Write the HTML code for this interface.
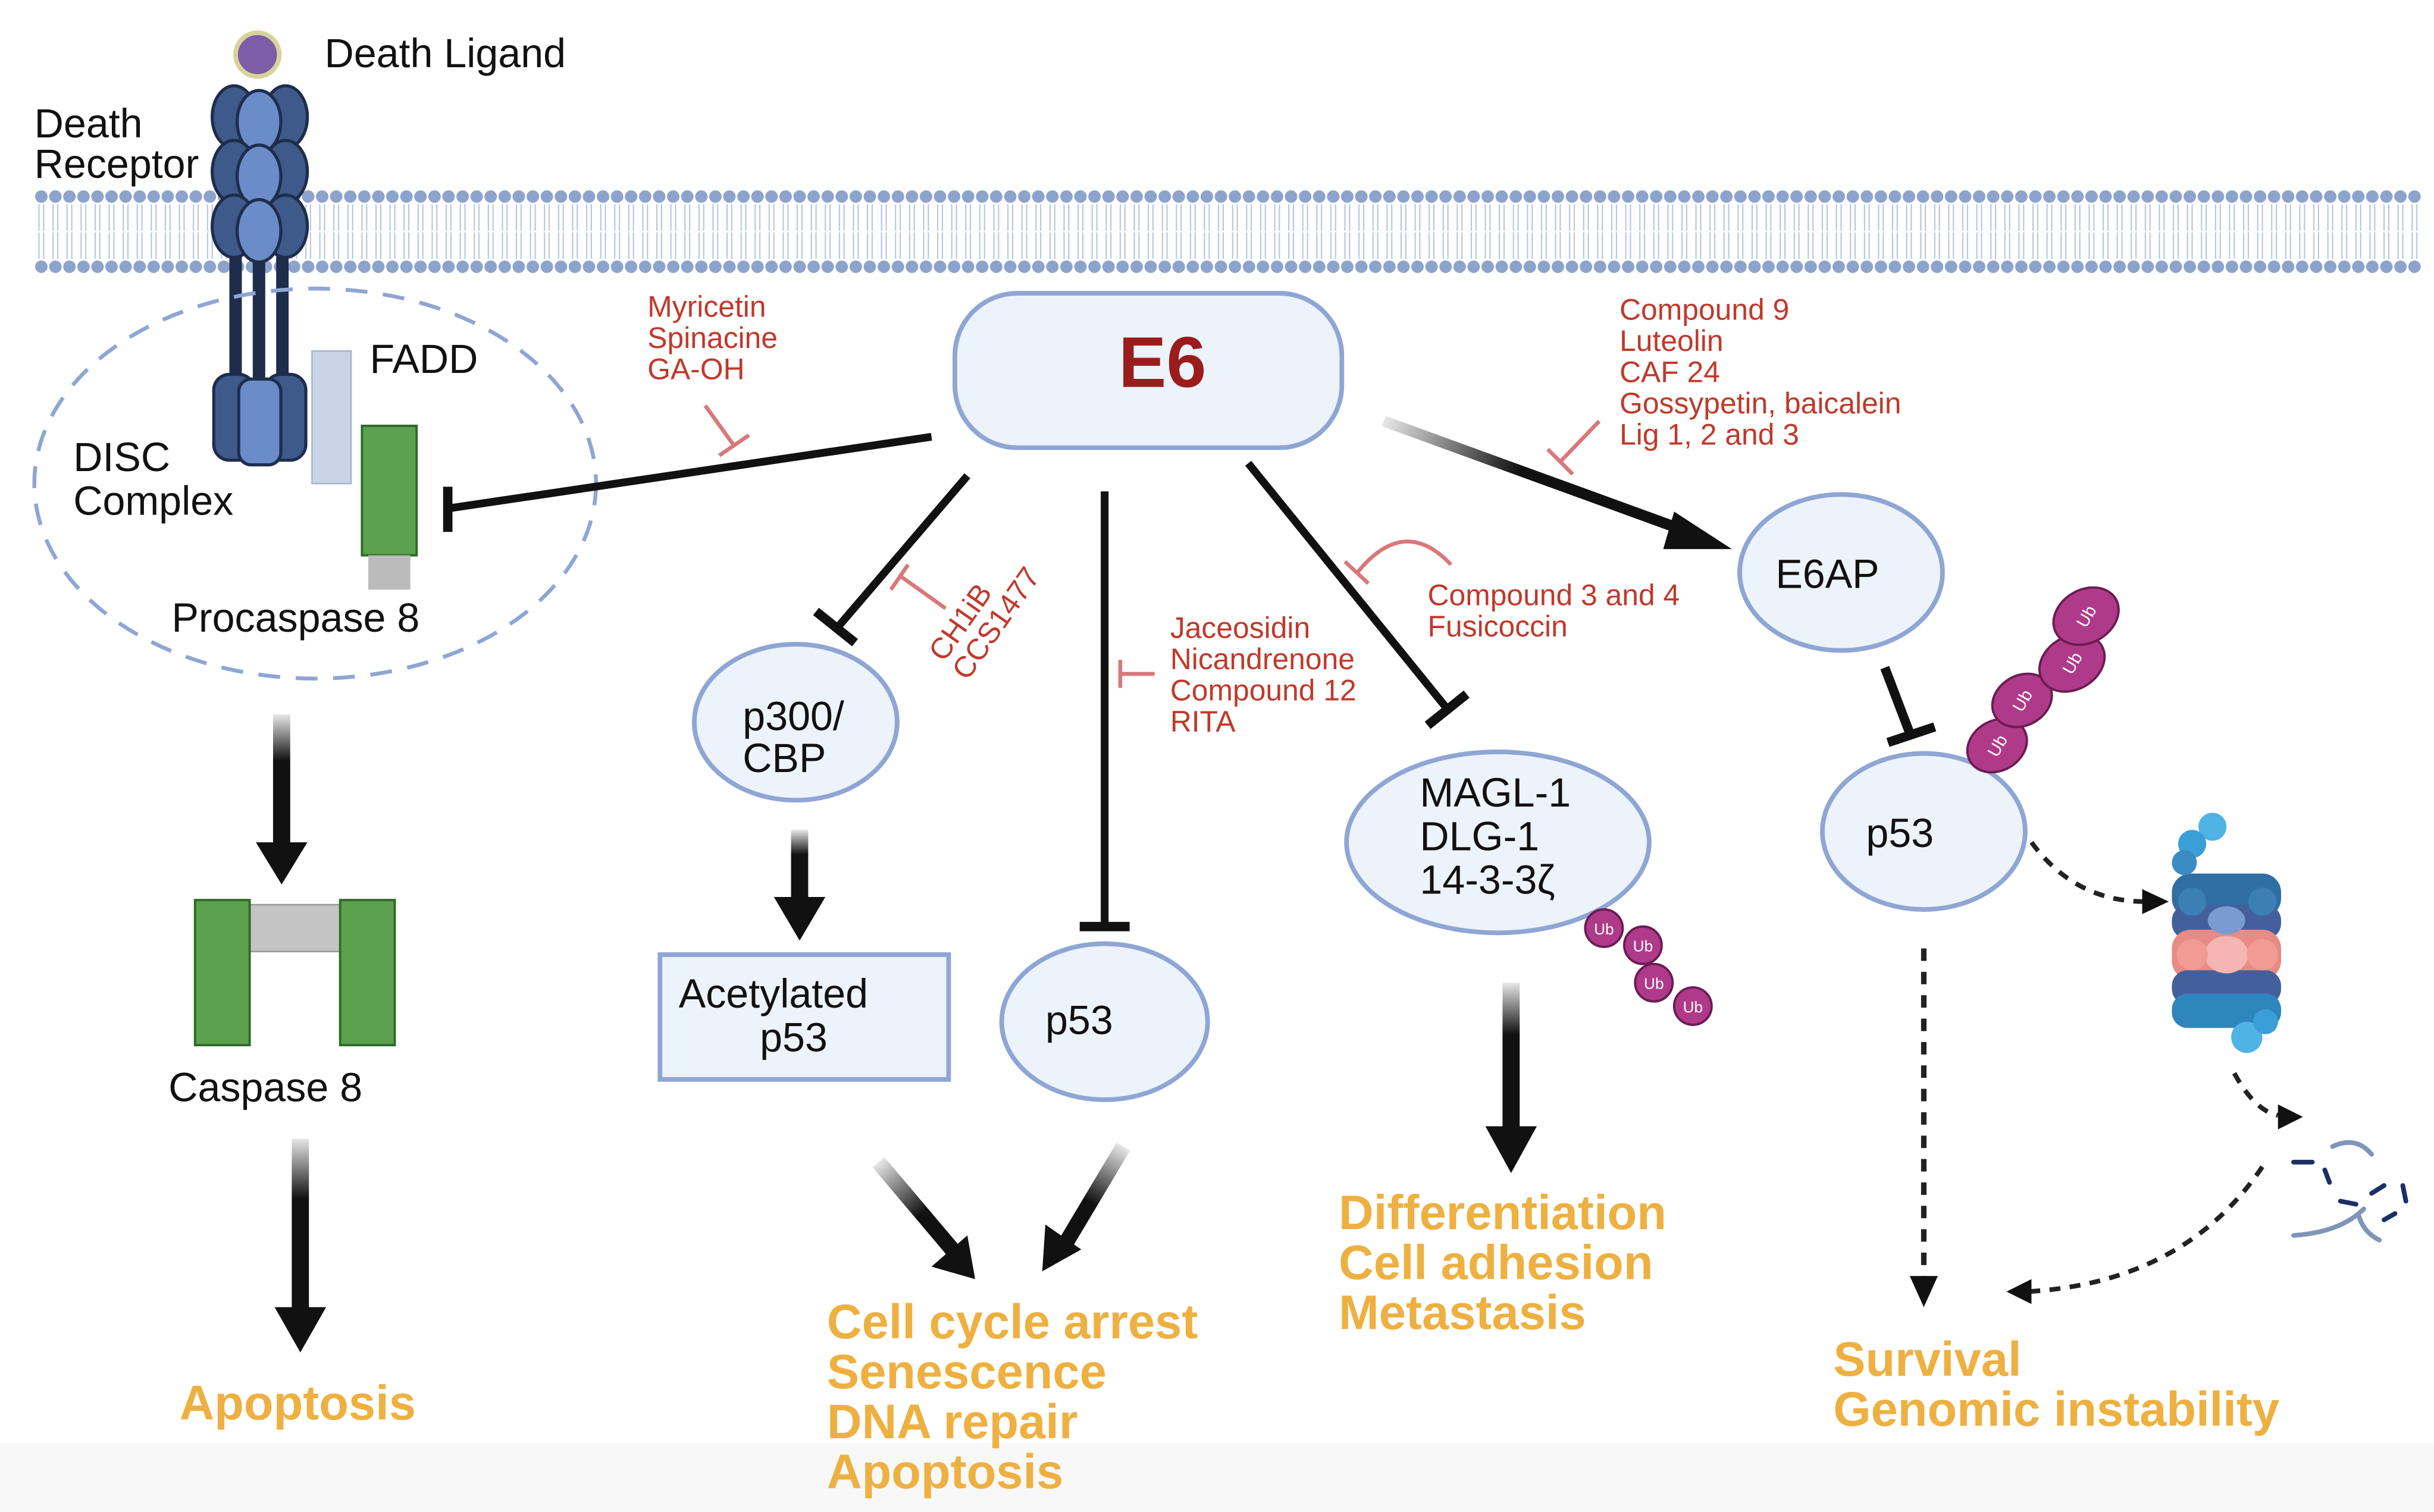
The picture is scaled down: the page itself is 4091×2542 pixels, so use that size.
<!DOCTYPE html>
<html><head><meta charset="utf-8"><style>
html,body{margin:0;padding:0;background:#fff;}
svg{display:block;}
text{font-family:"Liberation Sans",sans-serif;}
.n{fill:#111;font-size:26px;}
.r{fill:#c0392b;font-size:19px;}
.o{fill:#eeb041;font-size:31px;font-weight:bold;}
.node{fill:#edf3fb;stroke:#8fa6d4;stroke-width:3;}
</style></head><body>
<svg width="4091" height="2542" viewBox="0 0 1560 969.3" preserveAspectRatio="none" xmlns="http://www.w3.org/2000/svg">
<defs>
<pattern id="dots" x="22" y="0" width="9" height="200" patternUnits="userSpaceOnUse">
<circle cx="4.5" cy="126" r="4" fill="#8ca3cc"/>
<circle cx="4.5" cy="171" r="4" fill="#8ca3cc"/>
<path d="M3 131 L3 148 M6 131 L6 148 M3 149 L3 166 M6 149 L6 166" stroke="#b5c5e0" stroke-width="0.8"/>
</pattern>
<linearGradient id="gv" x1="0" y1="0" x2="0" y2="1"><stop offset="0" stop-color="#111" stop-opacity="0.1"/><stop offset="0.35" stop-color="#111"/></linearGradient>
<linearGradient id="g1" gradientUnits="userSpaceOnUse" x1="887" y1="270" x2="1060" y2="335"><stop offset="0" stop-color="#111" stop-opacity="0.1"/><stop offset="0.5" stop-color="#111"/></linearGradient>
<linearGradient id="g2" gradientUnits="userSpaceOnUse" x1="563" y1="745" x2="610" y2="800"><stop offset="0" stop-color="#111" stop-opacity="0.1"/><stop offset="0.6" stop-color="#111"/></linearGradient>
<linearGradient id="g3" gradientUnits="userSpaceOnUse" x1="720" y1="735" x2="685" y2="795"><stop offset="0" stop-color="#111" stop-opacity="0.1"/><stop offset="0.6" stop-color="#111"/></linearGradient>
</defs>
<rect x="0" y="925" width="1560" height="45" fill="#f8f8f8"/>

<!-- membrane -->
<rect x="22" y="118" width="1530" height="60" fill="url(#dots)"/>

<!-- death ligand & receptor -->
<circle cx="165" cy="35" r="14" fill="#7b5ea7" stroke="#d8d39a" stroke-width="3"/>
<text class="n" x="208" y="43">Death Ligand</text>
<text class="n" x="22" y="88">Death</text>
<text class="n" x="22" y="114">Receptor</text>
<g stroke="#1f2d4d" stroke-width="2">
<rect x="148" y="140" width="6" height="105" fill="#1f2d4d"/>
<rect x="163" y="140" width="6" height="105" fill="#1f2d4d"/>
<rect x="178" y="140" width="6" height="105" fill="#1f2d4d"/>
<ellipse cx="150" cy="75" rx="14" ry="20" fill="#3d5a8a"/><ellipse cx="183" cy="75" rx="14" ry="20" fill="#3d5a8a"/><ellipse cx="166" cy="78" rx="14" ry="20" fill="#6a8cc8"/>
<ellipse cx="150" cy="110" rx="14" ry="20" fill="#3d5a8a"/><ellipse cx="183" cy="110" rx="14" ry="20" fill="#3d5a8a"/><ellipse cx="166" cy="113" rx="14" ry="20" fill="#6a8cc8"/>
<ellipse cx="150" cy="145" rx="14" ry="20" fill="#3d5a8a"/><ellipse cx="183" cy="145" rx="14" ry="20" fill="#3d5a8a"/><ellipse cx="166" cy="148" rx="14" ry="20" fill="#6a8cc8"/>
<rect x="137" y="240" width="26" height="55" rx="10" fill="#3d5a8a"/><rect x="170" y="240" width="26" height="55" rx="10" fill="#3d5a8a"/><rect x="153" y="243" width="27" height="55" rx="8" fill="#6a8cc8"/>
</g>
<rect x="200" y="225" width="25" height="85" fill="#c9d3e6" stroke="#a8b6d2"/>
<text class="n" x="237" y="239">FADD</text>
<rect x="232" y="273" width="35" height="83" fill="#5ca24e" stroke="#2f6a2a" stroke-width="1.5"/>
<rect x="236" y="356" width="27" height="22" fill="#bbb"/>
<ellipse cx="202" cy="310" rx="180" ry="125" fill="none" stroke="#8fa6d4" stroke-width="2.5" stroke-dasharray="14 10"/>
<text class="n" x="47" y="302">DISC</text>
<text class="n" x="47" y="330">Complex</text>
<text class="n" x="110" y="405">Procaspase 8</text>

<!-- caspase path -->
<rect x="175" y="458" width="11" height="85" fill="url(#gv)"/>
<path d="M164 540 L197 540 L180.5 567Z" fill="#111"/>
<rect x="160" y="580" width="58" height="30" fill="#c4c4c4" stroke="#999"/>
<rect x="125" y="577" width="35" height="93" fill="#5ca24e" stroke="#2f6a2a" stroke-width="1.5"/>
<rect x="218" y="577" width="35" height="93" fill="#5ca24e" stroke="#2f6a2a" stroke-width="1.5"/>
<text class="n" x="108" y="706">Caspase 8</text>
<rect x="187" y="730" width="11" height="110" fill="url(#gv)"/>
<path d="M176 838 L209 838 L192.5 867Z" fill="#111"/>
<text class="o" x="115" y="910">Apoptosis</text>

<!-- E6 -->
<rect x="612" y="188" width="248" height="99" rx="40" class="node"/>
<text x="745" y="248" text-anchor="middle" style="font-size:46px;font-weight:bold;fill:#9b1c1c">E6</text>

<!-- E6 -> DISC inhibition -->
<line x1="597" y1="280" x2="287" y2="326" stroke="#111" stroke-width="5"/>
<line x1="287" y1="312" x2="287" y2="341" stroke="#111" stroke-width="6"/>
<text class="r" x="415" y="203">Myricetin</text>
<text class="r" x="415" y="223">Spinacine</text>
<text class="r" x="415" y="243">GA-OH</text>
<line x1="452" y1="260" x2="470" y2="285" stroke="#d9777b" stroke-width="2.5"/>
<line x1="461" y1="292" x2="480" y2="279" stroke="#d9777b" stroke-width="2.5"/>

<!-- p300 -->
<line x1="620" y1="305" x2="537" y2="402" stroke="#111" stroke-width="5"/>
<line x1="523" y1="392" x2="548" y2="412" stroke="#111" stroke-width="6"/>
<line x1="606" y1="390" x2="578" y2="370" stroke="#d9777b" stroke-width="2.5"/>
<line x1="571" y1="378" x2="582" y2="362" stroke="#d9777b" stroke-width="2.5"/>
<text class="r" x="605" y="425" transform="rotate(-55 605 425)">CH1iB</text>
<text class="r" x="620" y="437" transform="rotate(-55 620 437)">CCS1477</text>
<ellipse cx="510" cy="463" rx="65" ry="50" class="node"/>
<text class="n" x="476" y="468">p300/</text>
<text class="n" x="476" y="495">CBP</text>
<rect x="507" y="532" width="11" height="45" fill="url(#gv)"/>
<path d="M496 575 L529 575 L512.5 603Z" fill="#111"/>
<rect x="423" y="612" width="185" height="80" class="node"/>
<text class="n" x="435" y="646">Acetylated</text>
<text class="n" x="487" y="674">p53</text>

<!-- p53 middle -->
<line x1="708" y1="315" x2="708" y2="593" stroke="#111" stroke-width="5"/>
<line x1="692" y1="594" x2="724" y2="594" stroke="#111" stroke-width="6"/>
<line x1="718" y1="432" x2="740" y2="432" stroke="#d9777b" stroke-width="2.5"/>
<line x1="718" y1="423" x2="718" y2="441" stroke="#d9777b" stroke-width="2.5"/>
<text class="r" x="750" y="409">Jaceosidin</text>
<text class="r" x="750" y="429">Nicandrenone</text>
<text class="r" x="750" y="449">Compound 12</text>
<text class="r" x="750" y="469">RITA</text>
<ellipse cx="708" cy="655" rx="66" ry="50" class="node"/>
<text class="n" x="670" y="663">p53</text>

<line x1="563" y1="745" x2="612" y2="803" stroke="url(#g2)" stroke-width="10"/>
<path d="M597 812 L625 820 L620 792Z" fill="#111"/>
<line x1="720" y1="735" x2="683" y2="797" stroke="url(#g3)" stroke-width="10"/>
<path d="M670 785 L668 815 L693 801Z" fill="#111"/>
<text class="o" x="530" y="858">Cell cycle arrest</text>
<text class="o" x="530" y="890">Senescence</text>
<text class="o" x="530" y="922">DNA repair</text>
<text class="o" x="530" y="954">Apoptosis</text>

<!-- MAGL -->
<line x1="800" y1="297" x2="928" y2="455" stroke="#111" stroke-width="5"/>
<line x1="915" y1="465" x2="940" y2="445" stroke="#111" stroke-width="6"/>
<path d="M870 367 Q900 330 930 362" fill="none" stroke="#d9777b" stroke-width="2.5"/>
<line x1="862" y1="360" x2="877" y2="374" stroke="#d9777b" stroke-width="2.5"/>
<text class="r" x="915" y="388">Compound 3 and 4</text>
<text class="r" x="915" y="408">Fusicoccin</text>
<ellipse cx="960" cy="540" rx="97" ry="58" class="node"/>
<text class="n" x="910" y="517">MAGL-1</text>
<text class="n" x="910" y="545">DLG-1</text>
<text class="n" x="910" y="573">14-3-3ζ</text>
<g fill="#b03a8a" stroke="#6b1d52" stroke-width="1.5">
<circle cx="1028" cy="595" r="12"/><circle cx="1053" cy="606" r="12"/><circle cx="1060" cy="630" r="12"/><circle cx="1085" cy="645" r="12"/>
</g>
<g fill="#fff" font-size="10" text-anchor="middle">
<text x="1028" y="599">Ub</text><text x="1053" y="610">Ub</text><text x="1060" y="634">Ub</text><text x="1085" y="649">Ub</text>
</g>
<rect x="963" y="630" width="11" height="95" fill="url(#gv)"/>
<path d="M952 722 L985 722 L968.5 752Z" fill="#111"/>
<text class="o" x="858" y="788">Differentiation</text>
<text class="o" x="858" y="820">Cell adhesion</text>
<text class="o" x="858" y="852">Metastasis</text>

<!-- E6AP -->
<line x1="887" y1="270" x2="1085" y2="342" stroke="url(#g1)" stroke-width="7"/>
<path d="M1073 328 L1110 352 L1066 352Z" fill="#111"/>
<line x1="1025" y1="270" x2="1000" y2="296" stroke="#d9777b" stroke-width="2.5"/>
<line x1="992" y1="288" x2="1008" y2="304" stroke="#d9777b" stroke-width="2.5"/>
<text class="r" x="1038" y="205">Compound 9</text>
<text class="r" x="1038" y="225">Luteolin</text>
<text class="r" x="1038" y="245">CAF 24</text>
<text class="r" x="1038" y="265">Gossypetin, baicalein</text>
<text class="r" x="1038" y="285">Lig 1, 2 and 3</text>
<ellipse cx="1180" cy="367" rx="65" ry="50" class="node"/>
<text class="n" x="1138" y="377">E6AP</text>
<line x1="1208" y1="428" x2="1224" y2="470" stroke="#111" stroke-width="6"/>
<line x1="1210" y1="476" x2="1240" y2="466" stroke="#111" stroke-width="6"/>
<ellipse cx="1233" cy="533" rx="65" ry="50" class="node"/>
<text class="n" x="1196" y="543">p53</text>
<g fill="#b03a8a" stroke="#6b1d52" stroke-width="1.5">
<ellipse cx="1280" cy="478" rx="20" ry="16" transform="rotate(-30 1280 478)"/>
<ellipse cx="1296" cy="449" rx="20" ry="16" transform="rotate(-30 1296 449)"/>
<ellipse cx="1328" cy="425" rx="22" ry="17" transform="rotate(-30 1328 425)"/>
<ellipse cx="1337" cy="395" rx="22" ry="17" transform="rotate(-30 1337 395)"/>
</g>
<g fill="#fff" font-size="11" text-anchor="middle">
<text x="1280" y="482" transform="rotate(-60 1280 478)">Ub</text>
<text x="1296" y="453" transform="rotate(-60 1296 449)">Ub</text>
<text x="1328" y="429" transform="rotate(-60 1328 425)">Ub</text>
<text x="1337" y="399" transform="rotate(-60 1337 395)">Ub</text>
</g>

<!-- proteasome -->
<path d="M1302 540 Q1330 578 1375 578" fill="none" stroke="#222" stroke-width="3" stroke-dasharray="7 6"/>
<path d="M1373 570 L1390 578 L1373 586Z" fill="#111"/>
<g stroke="none">
<rect x="1392" y="560" width="70" height="28" rx="12" fill="#2f6fa3"/>
<rect x="1392" y="580" width="70" height="22" rx="10" fill="#44609c"/>
<rect x="1392" y="596" width="70" height="32" rx="12" fill="#e88a86"/>
<rect x="1392" y="622" width="70" height="22" rx="10" fill="#44609c"/>
<rect x="1392" y="637" width="70" height="22" rx="10" fill="#2f85bd"/>
<circle cx="1418" cy="530" r="9" fill="#4fb3e4"/><circle cx="1405" cy="541" r="9" fill="#3a9fd6"/><circle cx="1400" cy="553" r="8" fill="#3a8cc2"/>
<circle cx="1440" cy="665" r="10" fill="#4fb3e4"/><circle cx="1452" cy="655" r="8" fill="#3a9fd6"/>
<ellipse cx="1427" cy="612" rx="14" ry="12" fill="#f4b6b2"/>
<ellipse cx="1427" cy="590" rx="12" ry="9" fill="#7a9bd0"/>
<circle cx="1405" cy="578" r="9" fill="#3b7fb5"/><circle cx="1450" cy="578" r="9" fill="#3b7fb5"/>
<circle cx="1405" cy="612" r="10" fill="#f29b95"/><circle cx="1450" cy="612" r="10" fill="#f29b95"/>
</g>
<path d="M1432 688 Q1445 712 1460 715" fill="none" stroke="#222" stroke-width="3" stroke-dasharray="7 6"/>
<path d="M1460 708 L1476 716 L1460 724Z" fill="#111"/>
<g stroke-width="3" fill="none" stroke-linecap="round">
<path d="M1470 745 L1482 745 M1490 750 L1493 758 M1500 770 L1510 772 M1520 765 L1528 760 M1540 760 L1542 770 M1528 782 L1535 778" stroke="#1b2f66"/>
<path d="M1495 735 Q1510 728 1520 740 M1470 792 Q1500 790 1515 775 M1512 780 Q1515 790 1525 795" stroke="#7f95b8"/>
</g>
<path d="M1450 748 Q1400 822 1300 828" fill="none" stroke="#222" stroke-width="3" stroke-dasharray="7 6"/>
<path d="M1302 820 L1286 828 L1302 836Z" fill="#111"/>
<line x1="1233" y1="608" x2="1233" y2="820" stroke="#222" stroke-width="3.5" stroke-dasharray="8 7"/>
<path d="M1224 818 L1242 818 L1233 838Z" fill="#111"/>
<text class="o" x="1175" y="882">Survival</text>
<text class="o" x="1175" y="914">Genomic instability</text>
</svg>
</body></html>
